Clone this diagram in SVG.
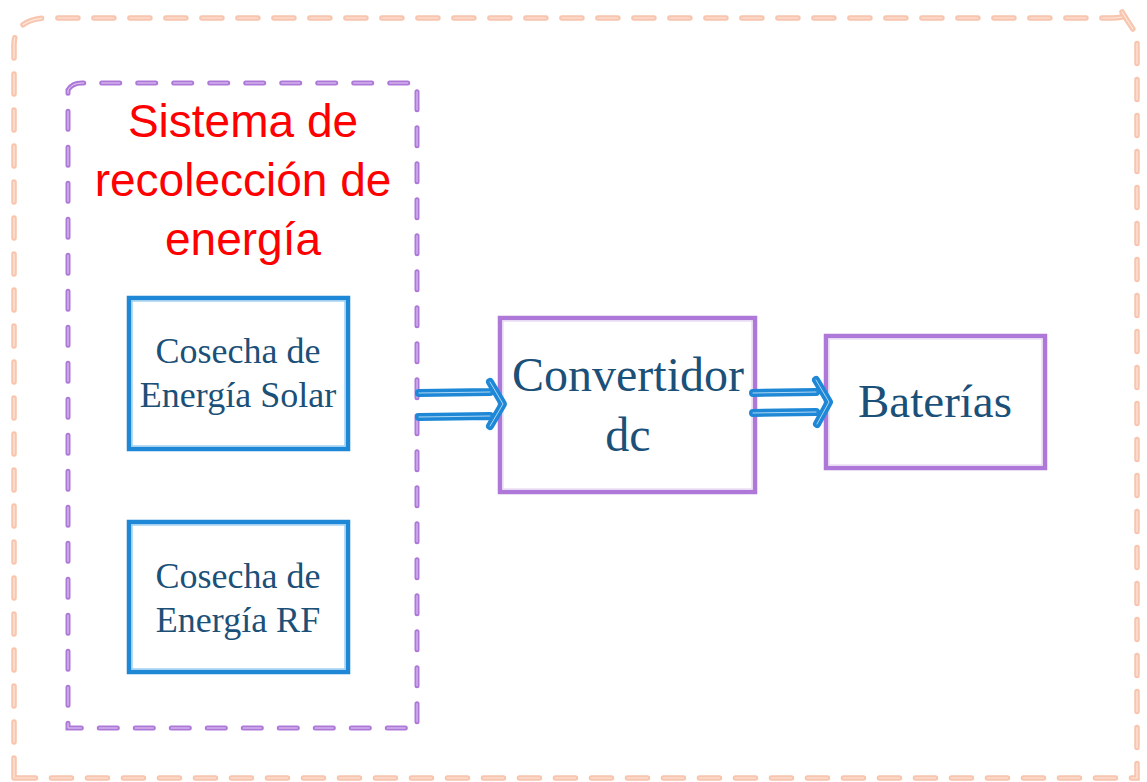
<svg xmlns="http://www.w3.org/2000/svg" width="1147" height="782" viewBox="0 0 1147 782">
<style>
.outer{fill:none;stroke:#F8C5AE;stroke-width:5.5;stroke-linecap:round;stroke-dasharray:20 16}
.outerhi{fill:none;stroke:#FDE8DE;stroke-width:1.2;stroke-linecap:round;stroke-dasharray:20 16}
.grp{fill:none;stroke:#AE78D9;stroke-width:5;stroke-linecap:round;stroke-dasharray:18 18}
.grphi{fill:none;stroke:#E2CDF2;stroke-width:1;stroke-linecap:round;stroke-dasharray:18 18}
.blue{fill:#fff;stroke:#1E88D6;stroke-width:4.5}
.bluehi{fill:none;stroke:#8CC6EE;stroke-width:1.2}
.purp{fill:#fff;stroke:#AE78D9;stroke-width:4.5}
.purphi{fill:none;stroke:#E7D6F4;stroke-width:1.2}
.arr{fill:none;stroke:#1E88D6;stroke-width:8;stroke-linecap:round;stroke-linejoin:round}
.arrhi{fill:none;stroke:#BFE0F7;stroke-width:0.9;stroke-linecap:round;stroke-linejoin:round}
.title{font-family:'Liberation Sans',Arial,sans-serif;font-size:46px;fill:#FF0000;text-anchor:middle}
.lbl{font-family:'Liberation Serif','Times New Roman',serif;fill:#1B5078;text-anchor:middle}
</style>
<rect width="1147" height="782" fill="#fff"/>
<g id="outer-frame">
<path class="outer" d="M14 778 L14 45 Q14 20 45 18 L1112 18 Q1125 18 1135 12 M1122 12 Q1130 25 1137 35 L1137 778 L14 778"/>
<path class="outerhi" d="M14 778 L14 45 Q14 20 45 18 L1112 18 Q1125 18 1135 12 M1122 12 Q1130 25 1137 35 L1137 778 L14 778"/>
</g>
<g id="harvest-system">
<path class="grp" d="M68 90 Q72 83 82 83 L417 83 L417 728 L68 728 Z"/>
<path class="grphi" d="M68 90 Q72 83 82 83 L417 83 L417 728 L68 728 Z"/>
<text class="title" x="243" y="137">Sistema de</text>
<text class="title" x="243" y="196">recolección de</text>
<text class="title" x="243" y="255">energía</text>
</g>
<g id="solar">
<rect class="blue" x="129" y="298" width="219" height="151"/>
<rect class="bluehi" x="132" y="301" width="213" height="145"/>
<text class="lbl" x="238" y="363" font-size="36">Cosecha de</text>
<text class="lbl" x="238" y="407" font-size="36">Energía Solar</text>
</g>
<g id="rf">
<rect class="blue" x="129" y="522" width="219" height="150"/>
<rect class="bluehi" x="132" y="525" width="213" height="144"/>
<text class="lbl" x="238" y="588" font-size="36">Cosecha de</text>
<text class="lbl" x="238" y="632" font-size="36">Energía RF</text>
</g>
<g id="convertidor">
<rect class="purp" x="500" y="318" width="255" height="174"/>
<rect class="purphi" x="503" y="321" width="249" height="168"/>
<text class="lbl" x="628" y="391" font-size="48">Convertidor</text>
<text class="lbl" x="628" y="451" font-size="48">dc</text>
</g>
<g id="baterias">
<rect class="purp" x="826" y="336" width="219" height="132"/>
<rect class="purphi" x="829" y="339" width="213" height="126"/>
<text class="lbl" x="935" y="417" font-size="47">Baterías</text>
</g>
<g id="connectors">
<path class="arr" d="M419 393 L490 392 M419 417 L490 416 M490 382 L503 404 L490 426"/>
<path class="arrhi" d="M419 393 L490 392 M419 417 L490 416 M490 382 L503 404 L490 426"/>
<path class="arr" d="M753 393 L816 392 M753 413 L816 412 M816 380 L829 402 L817 424"/>
<path class="arrhi" d="M753 393 L816 392 M753 413 L816 412 M816 380 L829 402 L817 424"/>
</g>
</svg>
